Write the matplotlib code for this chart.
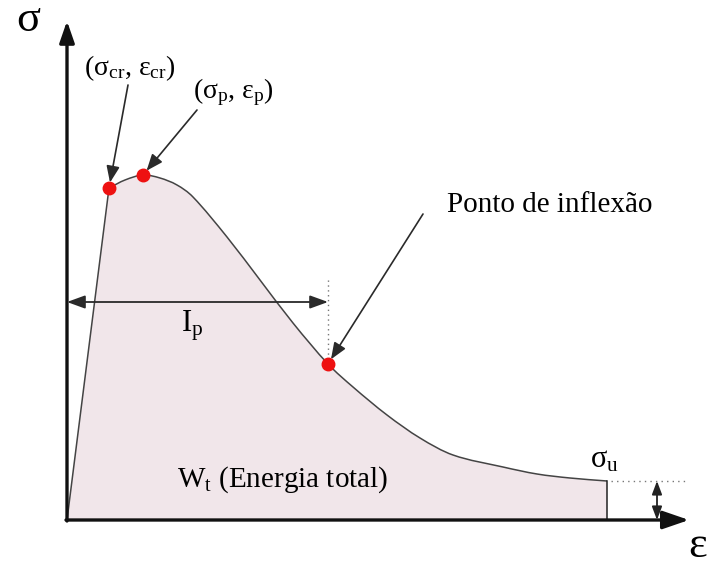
import matplotlib
matplotlib.use('Agg')
import matplotlib.pyplot as plt
from matplotlib.path import Path
from matplotlib.patches import PathPatch

# curve (arbitrary units, origin at the axes corner)
strain = [0, 42, 58, 76, 93, 110, 126, 160, 193, 226, 261, 286, 320, 353, 386, 436, 470, 503, 540]
stress = [0, 332, 340, 345, 342, 335, 323, 283, 240, 197, 156, 133, 105, 82, 65, 53, 46, 42, 39]

# marked points: (strain, stress)
cr_point = (42, 332)
peak_point = (76, 345)
inflex_point = (261, 156)
ultimate = (540, 39)

plt.rcParams['font.family'] = ['Liberation Serif', 'DejaVu Serif']
plt.rcParams['mathtext.fontset'] = 'custom'
plt.rcParams['mathtext.rm'] = 'Liberation Serif'
plt.rcParams['mathtext.it'] = 'Liberation Serif'


def smooth_path(xs, ys, start=1):
    # straight elastic part, then hermite/bezier segments through the read points
    n = len(xs)
    slopes = []
    for i in range(n):
        if i <= start:
            slopes.append((ys[start + 1] - ys[start]) / (xs[start + 1] - xs[start]))
        elif i == n - 1:
            slopes.append((ys[i] - ys[i - 1]) / (xs[i] - xs[i - 1]))
        else:
            slopes.append((ys[i + 1] - ys[i - 1]) / (xs[i + 1] - xs[i - 1]))
    verts = [(xs[0], ys[0]), (xs[start], ys[start])]
    codes = [Path.MOVETO, Path.LINETO]
    for i in range(start, n - 1):
        h = (xs[i + 1] - xs[i]) / 3
        verts += [(xs[i] + h, ys[i] + slopes[i] * h),
                  (xs[i + 1] - h, ys[i + 1] - slopes[i + 1] * h),
                  (xs[i + 1], ys[i + 1])]
        codes += [Path.CURVE4] * 3
    return verts, codes


fig = plt.figure(figsize=(7.12, 5.67), dpi=100)
ax = fig.add_axes([0, 0, 1, 1])
ax.set_xlim(-67, 645)
ax.set_ylim(-47, 520)
ax.axis('off')

fill_c = '#f1e6ea'
line_c = '#444444'

verts, codes = smooth_path(strain, stress)
area = Path(verts + [(ultimate[0], 0), (0, 0)], codes + [Path.LINETO, Path.CLOSEPOLY])
ax.add_patch(PathPatch(area, facecolor=fill_c, edgecolor='none', zorder=1))
ax.add_patch(PathPatch(Path(verts, codes), facecolor='none', edgecolor=line_c, lw=1.1, zorder=3))
ax.plot([ultimate[0], ultimate[0]], [ultimate[1], 0], color='#222222', lw=1.1, zorder=3)

# axes with arrow heads
ax.annotate('', xy=(0, 499), xytext=(0, -1),
            arrowprops=dict(arrowstyle='-|>,head_length=1.3,head_width=0.45',
                            color='#111111', lw=2.4, shrinkA=0, shrinkB=0), zorder=5)
ax.annotate('', xy=(622, 0), xytext=(-1, 0),
            arrowprops=dict(arrowstyle='-|>,head_length=1.6,head_width=0.55',
                            color='#111111', lw=2.4, shrinkA=0, shrinkB=0), zorder=5)

ax.text(-39, 500, 'σ', fontsize=32, ha='center', va='center')
ax.text(631, -26, 'ε', fontsize=32, ha='center', va='center')

# red markers
for p in (cr_point, peak_point, inflex_point):
    ax.plot(p[0], p[1], 'o', color='#ee1111', ms=9, zorder=6)

arrow = dict(arrowstyle='-|>,head_length=1.0,head_width=0.4', color='#2a2a2a',
             lw=1.2, shrinkA=0, shrinkB=4)

# (sigma_cr, eps_cr)
ax.annotate('', xy=cr_point, xytext=(61, 435), arrowprops=arrow, zorder=7)
ax.text(63, 452, r'(σ$_{\mathrm{cr}}$, ε$_{\mathrm{cr}}$)', fontsize=20,
        ha='center', va='center')

# (sigma_p, eps_p)
ax.annotate('', xy=peak_point, xytext=(130, 410), arrowprops=arrow, zorder=7)
ax.text(166, 428, r'(σ$_{\mathrm{p}}$, ε$_{\mathrm{p}}$)', fontsize=20,
        ha='center', va='center')

# inflection
ax.annotate('', xy=inflex_point, xytext=(356, 306), arrowprops=arrow, zorder=7)
ax.text(380, 315, 'Ponto de inflexão', fontsize=21, ha='left', va='center')

# dotted guide at inflection strain and I_p
ax.plot([inflex_point[0], inflex_point[0]], [inflex_point[1], 243],
        color='#777777', lw=1, ls=(0, (1, 2.5)), zorder=2)
ax.annotate('', xy=(inflex_point[0], 218), xytext=(0, 218),
            arrowprops=dict(arrowstyle='<|-|>,head_length=1.1,head_width=0.4',
                            color='#2a2a2a', lw=1.3, shrinkA=0, shrinkB=0), zorder=4)
ax.text(125, 194, r'I$_{\mathrm{p}}$', fontsize=22, ha='center', va='center')

# energy label
ax.text(110, 40, r'W$_{\mathrm{t}}$ (Energia total)', fontsize=21, ha='left', va='center')

# residual stress
ax.plot([ultimate[0] + 4, 618], [ultimate[1], ultimate[1]],
        color='#777777', lw=1, ls=(0, (1, 3)), zorder=2)
ax.annotate('', xy=(590, ultimate[1]), xytext=(590, 0),
            arrowprops=dict(arrowstyle='<|-|>,head_length=0.8,head_width=0.3',
                            color='#222222', lw=1.3, shrinkA=0, shrinkB=0), zorder=4)
ax.text(537, 60, r'σ$_{\mathrm{u}}$', fontsize=22, ha='center', va='center')

fig.savefig('out.png', dpi=100)
